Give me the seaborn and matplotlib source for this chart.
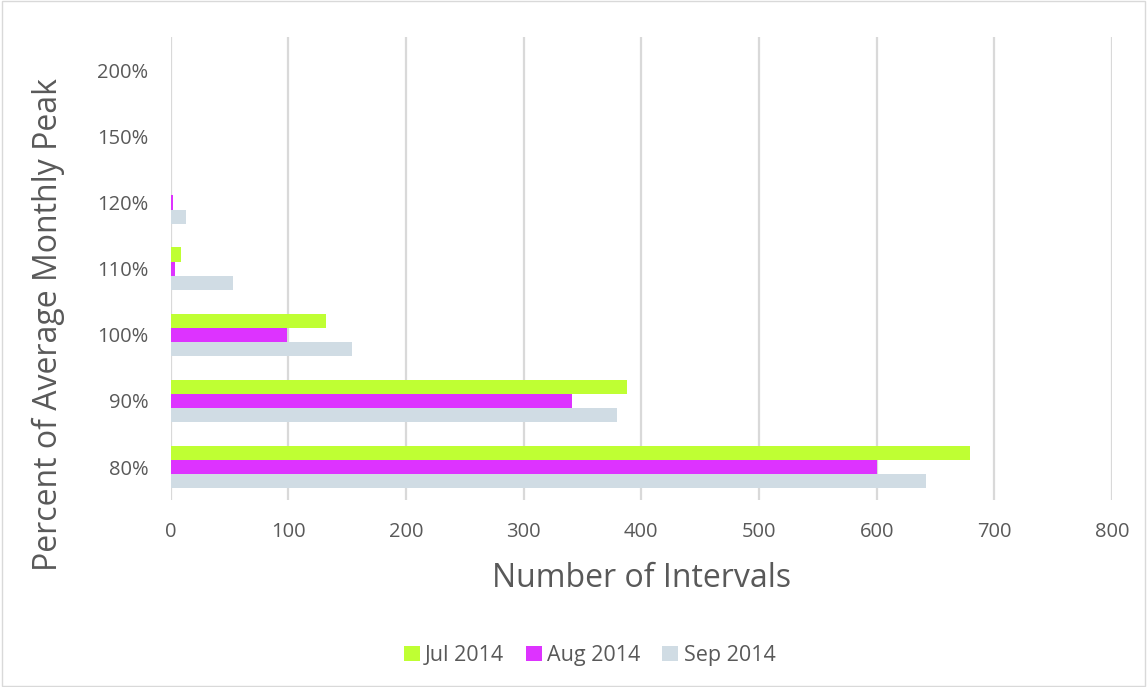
import matplotlib
matplotlib.use("Agg")
import matplotlib.pyplot as plt
import seaborn as sns
import pandas as pd
from matplotlib.patches import Rectangle

# Categories listed top to bottom as shown on the axis
levels = ["200%", "150%", "120%", "110%", "100%", "90%", "80%"]
months = ["Jul 2014", "Aug 2014", "Sep 2014"]
jul_2014 = [0, 0, 0, 9, 132, 388, 679]
aug_2014 = [0, 0, 2, 4, 99, 341, 600]
sep_2014 = [0, 0, 13, 53, 154, 379, 642]
colors = ["#bfff33", "#dd33ff", "#d0dce4"]

rows = []
for month, vals in zip(months, [jul_2014, aug_2014, sep_2014]):
    for lvl, v in zip(levels, vals):
        rows.append({"level": lvl, "month": month, "count": v})
df = pd.DataFrame(rows)

sns.set_theme(style="white")
plt.rcParams["font.family"] = ["Open Sans", "DejaVu Sans"]

fig = plt.figure(figsize=(11.47, 6.87), dpi=100)
ax = fig.add_axes([0.1487, 0.272, 0.8208, 0.674])

sns.barplot(data=df, y="level", x="count", hue="month", order=levels,
            hue_order=months, palette=colors, orient="h", width=0.64,
            saturation=1, linewidth=0, ax=ax, legend=True)

ax.set_xlim(0, 800)
ax.set_xticks(range(0, 801, 100))
ax.grid(axis="x", color="#d9d9d9", linewidth=1.6)
ax.set_axisbelow(True)
for s in ax.spines.values():
    s.set_visible(False)
ax.tick_params(axis="both", length=0, labelsize=14.5, labelcolor="#595959")
ax.tick_params(axis="x", pad=16)
ax.tick_params(axis="y", pad=16)
ax.set_xlabel("Number of Intervals", fontsize=23, color="#595959", labelpad=14)
ax.set_ylabel("Percent of Average Monthly Peak", fontsize=23, color="#595959")
ax.yaxis.set_label_coords(-0.112, 0.38)

handles, labels = ax.get_legend_handles_labels()
ax.legend(handles, labels, loc="center", bbox_to_anchor=(0.514, 0.046),
          bbox_transform=fig.transFigure, ncol=3, frameon=False,
          fontsize=15.5, labelcolor="#595959", handlelength=0.75, handleheight=0.75,
          handletextpad=0.25, columnspacing=1.0)

fig.patches.append(Rectangle((0.002, 0.002), 0.996, 0.996, transform=fig.transFigure,
                             fill=False, edgecolor="#d9d9d9", linewidth=1))

fig.savefig("out.png", dpi=100)
